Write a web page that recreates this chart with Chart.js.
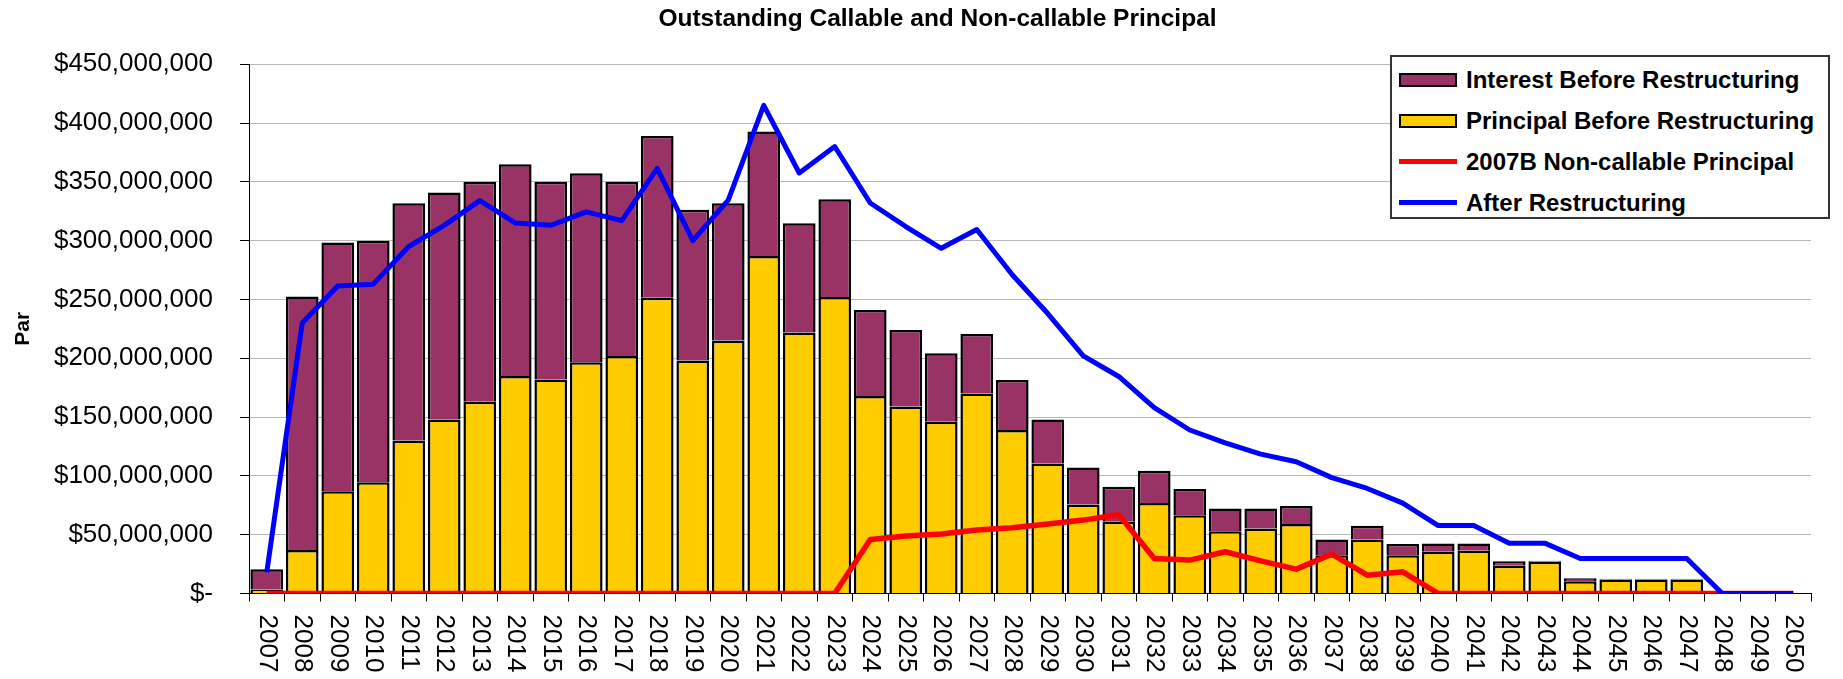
<!DOCTYPE html>
<html>
<head>
<meta charset="utf-8">
<script src="https://cdn.jsdelivr.net/npm/chart.js@4/dist/chart.umd.min.js"></script>
<style>
  body { margin: 0; background: #fff; }
  .wrap { position: relative; width: 1843px; height: 679px; }
  .legend {
    position: absolute; left: 1390px; top: 55px; width: 440px; height: 164px;
    border: 2px solid #333; background: #fff; box-sizing: border-box;
    padding-top: 2px;
    font-family: 'Liberation Sans', Arial, sans-serif; font-weight: bold; font-size: 24px;
  }
  .legend__item { display: flex; align-items: center; height: 41px; }
  .legend__mark { width: 58px; margin-left: 7px; margin-right: 9px; box-sizing: border-box; }
  .legend__mark--box { height: 14px; border: 2px solid #000; }
  .legend__mark--line { height: 5px; }
</style>
</head>
<body>
<div class="wrap">
  <canvas id="chart"></canvas>
  <div class="legend" id="legend"></div>
</div>
<script>
// Данные графика (млн $)
const chartTitle = 'Outstanding Callable and Non-callable Principal';
const years = [
  '2007', '2008', '2009', '2010', '2011', '2012', '2013', '2014', '2015', '2016', '2017',
  '2018', '2019', '2020', '2021', '2022', '2023', '2024', '2025', '2026', '2027', '2028',
  '2029', '2030', '2031', '2032', '2033', '2034', '2035', '2036', '2037', '2038', '2039',
  '2040', '2041', '2042', '2043', '2044', '2045', '2046', '2047', '2048', '2049', '2050',
];
const principalBefore = [
  3.5, 37, 87, 94.5, 130, 148, 163, 185, 182, 196.5, 202,
  251.5, 198, 215, 287, 222, 252, 168, 159, 146, 170, 139,
  110.6, 75.7, 61, 77, 66.6, 53, 55.3, 59, 32.6, 46, 32.6,
  35.4, 36.3, 23.5, 27, 10.5, 12, 12, 12, 0, 0, 0,
];
const interestBefore = [
  17.2, 215.5, 211.4, 205.5, 201.8, 192.9, 187, 180, 168, 160.8, 148,
  137.5, 128.2, 116.8, 105.8, 92.8, 83.2, 73, 65.1, 58.3, 50.7, 42.5,
  37.4, 31.5, 29.8, 27.4, 22.2, 19.3, 17, 15.3, 13.4, 11.6, 9.4,
  7.1, 6.2, 4, 0.8, 2.5, 0.5, 0.5, 0.5, 0, 0, 0,
];
const nonCallable2007B = [
  0, 0, 0, 0, 0, 0, 0, 0, 0, 0, 0,
  0, 0, 0, 0, 0, 0, 46, 48.8, 50.5, 53.9, 55.9,
  59, 62.4, 67, 29.8, 28.4, 35.5, 27.8, 20.7, 33.5, 15.6, 18.4,
  0, 0, 0, 0, 0, 0, 0, 0, 0, 0, 0,
];
const afterRestructuring = [
  18, 230, 261.5, 263, 295, 313, 334, 315, 313, 324.5, 317,
  361.5, 300, 334.5, 415, 357.5, 380, 332, 312, 293.5, 309.5, 271,
  238, 202, 184.5, 158, 139, 128, 118.5, 112, 98.5, 89.3, 76.8,
  57.8, 57.8, 42.8, 42.8, 29.8, 29.8, 29.8, 29.8, 0, 0, 0,
];
const yTicks = [0, 50, 100, 150, 200, 250, 300, 350, 400, 450];

const M = 1000000;
const toDollars = (arr) => arr.map((v) => v * M);

Chart.defaults.font.family = "'Liberation Sans', Arial, sans-serif";
Chart.defaults.color = '#000';

// Заголовок (смещён вправо, как в оригинале)
const topTitle = {
  id: 'topTitle',
  afterDraw(chart) {
    const { ctx } = chart;
    ctx.save();
    ctx.font = "bold 24.5px 'Liberation Sans', Arial, sans-serif";
    ctx.fillStyle = '#000';
    ctx.textAlign = 'center';
    ctx.textBaseline = 'middle';
    ctx.fillText(chartTitle, 937.5, 19.7);
    ctx.restore();
  },
};

// Подписи оси X, повёрнутые сверху вниз
const rotatedXLabels = {
  id: 'rotatedXLabels',
  afterDraw(chart) {
    const { ctx, scales: { x } } = chart;
    ctx.save();
    ctx.font = "26px 'Liberation Sans', Arial, sans-serif";
    ctx.fillStyle = '#000';
    ctx.textAlign = 'left';
    ctx.textBaseline = 'middle';
    chart.data.labels.forEach((label, i) => {
      ctx.save();
      ctx.translate(x.getPixelForTick(i), x.top + 21);
      ctx.rotate(Math.PI / 2);
      ctx.fillText(label, 0, 0);
      ctx.restore();
    });
    ctx.restore();
  },
};

const datasets = [
  {
    type: 'line',
    label: 'After Restructuring',
    data: toDollars(afterRestructuring),
    borderColor: '#0000FF',
    backgroundColor: '#0000FF',
    borderWidth: 5,
    pointRadius: 0,
    borderJoinStyle: 'round',
    fill: false,
    stack: 'after',
    order: 0,
  },
  {
    type: 'line',
    label: '2007B Non-callable Principal',
    data: toDollars(nonCallable2007B),
    borderColor: '#FF0000',
    backgroundColor: '#FF0000',
    borderWidth: 5.5,
    pointRadius: 0,
    borderJoinStyle: 'round',
    fill: false,
    stack: 'noncall',
    order: 1,
  },
  {
    type: 'bar',
    label: 'Principal Before Restructuring',
    data: toDollars(principalBefore),
    backgroundColor: '#FFCC00',
    borderColor: '#000',
    borderWidth: 2.5,
    stack: 'before',
    order: 2,
  },
  {
    type: 'bar',
    label: 'Interest Before Restructuring',
    data: toDollars(interestBefore),
    backgroundColor: '#993366',
    borderColor: '#000',
    borderWidth: 2.5,
    stack: 'before',
    order: 3,
  },
];

const chart = new Chart(document.getElementById('chart'), {
  data: { labels: years, datasets },
  options: {
    responsive: true,
    maintainAspectRatio: false,
    animation: false,
    layout: { padding: { left: 0, right: 32, top: 64.2, bottom: 0 } },
    datasets: { bar: { categoryPercentage: 1, barPercentage: 0.92 } },
    scales: {
      x: {
        stacked: true,
        afterFit: (scale) => { scale.height = 85.5; },
        border: { display: true, color: '#000', width: 1 },
        grid: {
          display: true,
          drawOnChartArea: false,
          drawTicks: true,
          tickLength: 8,
          tickColor: '#000',
          offset: true,
        },
        ticks: {
          color: 'rgba(0,0,0,0)',
          autoSkip: false,
          minRotation: 90,
          maxRotation: 90,
          font: { size: 26 },
        },
      },
      y: {
        stacked: true,
        min: 0,
        max: 450 * M,
        afterFit: (scale) => { scale.width = 249; },
        afterBuildTicks: (scale) => {
          scale.ticks = yTicks.map((v) => ({ value: v * M }));
        },
        border: { display: true, color: '#000', width: 1 },
        grid: {
          color: '#b8b8b8',
          lineWidth: 1,
          tickLength: 9,
          tickColor: '#000',
        },
        ticks: {
          padding: 27,
          font: { size: 26 },
          callback: (v) => (v === 0 ? '$-' : `$${v.toLocaleString('en-US')}`),
        },
        title: {
          display: true,
          text: 'Par',
          font: { size: 21, weight: 'bold' },
          padding: { top: 11, bottom: 0 },
        },
      },
    },
    plugins: {
      title: { display: false },
      legend: { display: false },
      tooltip: { enabled: false },
    },
  },
  plugins: [rotatedXLabels, topTitle],
});

// Легенда
const legendOrder = [3, 2, 1, 0];
const $legend = document.getElementById('legend');
legendOrder.forEach((idx) => {
  const ds = chart.data.datasets[idx];
  const $item = document.createElement('div');
  $item.className = 'legend__item';
  const $mark = document.createElement('span');
  if (ds.type === 'bar') {
    $mark.className = 'legend__mark legend__mark--box';
    $mark.style.background = ds.backgroundColor;
  } else {
    $mark.className = 'legend__mark legend__mark--line';
    $mark.style.background = ds.borderColor;
  }
  const $text = document.createElement('span');
  $text.textContent = ds.label;
  $item.append($mark, $text);
  $legend.append($item);
});
</script>
</body>
</html>
